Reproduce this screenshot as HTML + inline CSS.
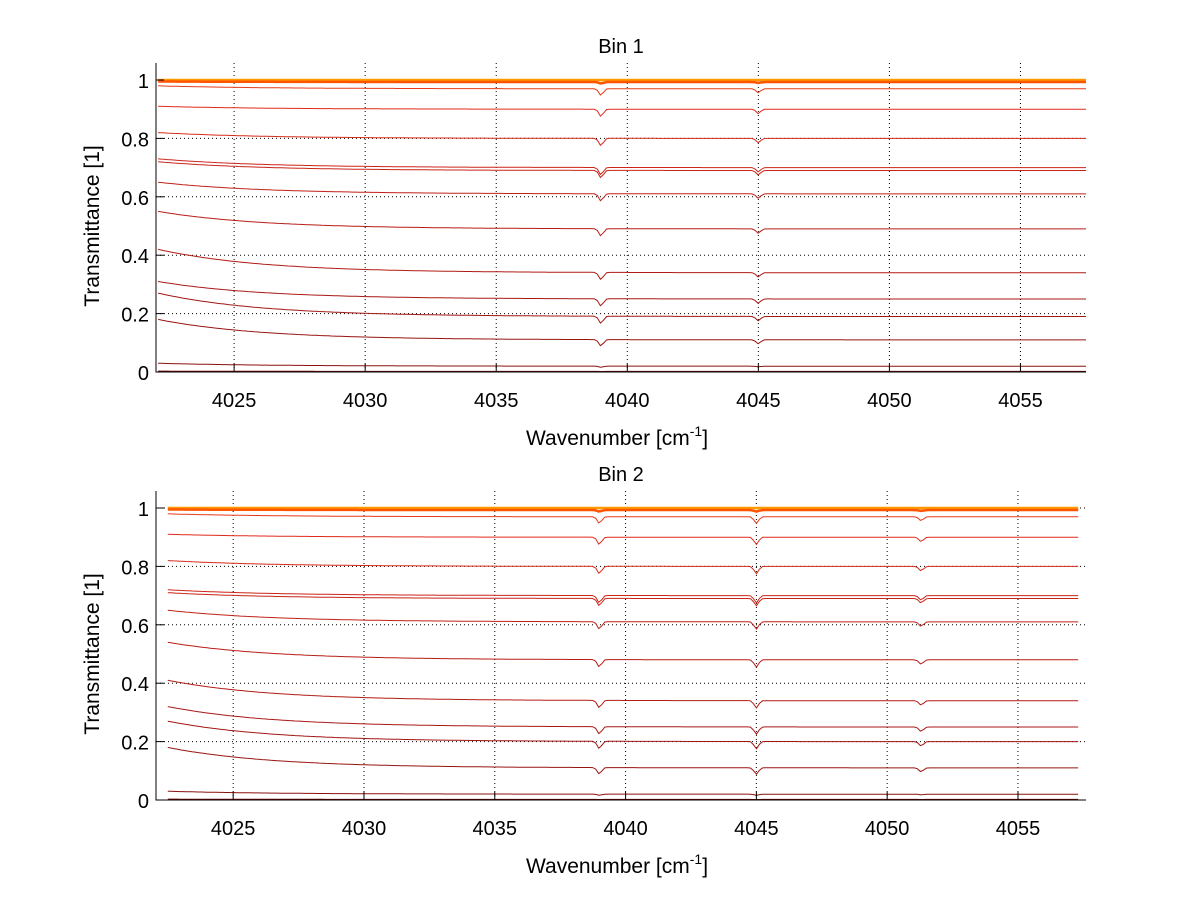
<!DOCTYPE html>
<html><head><meta charset="utf-8">
<style>
html,body{margin:0;padding:0;background:#fff;}
svg{display:block;font-family:"Liberation Sans",sans-serif;}
</style></head>
<body>
<svg id="fig" width="1200" height="901" viewBox="0 0 1200 901" xmlns="http://www.w3.org/2000/svg"></svg>
<script>
// Data
const xTicks = [4025, 4030, 4035, 4040, 4045, 4050, 4055];
const yTicks = [0, 0.2, 0.4, 0.6, 0.8, 1];
const yTickLabels = ["0", "0.2", "0.4", "0.6", "0.8", "1"];
const bin1Start = [1.0, 0.995, 0.98, 0.91, 0.82, 0.73, 0.72, 0.65, 0.55, 0.42, 0.31, 0.27, 0.18, 0.03, 0.003];
const bin1End   = [1.0, 0.993, 0.97, 0.90, 0.80, 0.70, 0.69, 0.61, 0.49, 0.34, 0.25, 0.19, 0.11, 0.02, 0.002];
const bin2Start = [1.0, 0.995, 0.98, 0.91, 0.82, 0.72, 0.71, 0.65, 0.54, 0.41, 0.32, 0.27, 0.18, 0.03, 0.003];
const bin2End   = [1.0, 0.993, 0.97, 0.90, 0.80, 0.70, 0.69, 0.61, 0.48, 0.34, 0.25, 0.20, 0.11, 0.02, 0.002];
const dipCenters = [4039, 4045, 4051.3];
const dipDepth1 = [0.025, 0.015, 0.0];
const dipDepth2 = [0.025, 0.025, 0.015];
const curveColors = ["#ff9900","#ff5500","#e83a1a","#e02a1a","#d42a1a","#cc2418","#c82418","#c02018","#b81c16","#b01a14","#a81814","#a01612","#981410","#8a100c","#700808"];

const NS="http://www.w3.org/2000/svg";
const svg=document.getElementById('fig');
function mk(tag,attrs,parent){const e=document.createElementNS(NS,tag);for(const k in attrs)e.setAttribute(k,attrs[k]);(parent||svg).appendChild(e);return e;}

function panel(p){
  const g=mk('g',{});
  
  
  const X=v=>p.x0+(v-p.xmin)/(p.xmax-p.xmin)*(p.x1-p.x0);
  const Y=v=>p.y0-v*(p.y0-p.yOne);
  xTicks.forEach(t=>{const l=mk('line',{x1:X(t),x2:X(t),y1:p.y0,y2:p.yTop,stroke:'#000','stroke-width':1,'stroke-dasharray':'1,3'},g);
    });
  yTicks.forEach(t=>{if(t===0)return;const l=mk('line',{x1:p.x0,x2:p.x1,y1:Y(t),y2:Y(t),stroke:'#000','stroke-width':1,'stroke-dasharray':'1,3'},g);
    });
  const n=p.start.length;
  for(let i=0;i<n;i++){
    let d='';const steps=300;
    for(let k=0;k<=steps;k++){
      const xv=p.dxmin+(p.dxmax-p.dxmin)*k/steps;
      const f=Math.exp(-(xv-p.dxmin)/4);
      let v=p.end[i]+(p.start[i]-p.end[i])*f;
      const sc=Math.min(1,p.end[i]*8)*Math.min(1,(1-p.end[i])*30);
      dipCenters.forEach((c,j)=>{v-=p.dips[j]*sc*Math.exp(-Math.pow((xv-c)/0.12,2));});
      if(v>1)v=1;
      d+=(k?'L':'M')+X(xv).toFixed(1)+','+Y(v).toFixed(1);
    }
    const path=mk('path',{d:d,fill:'none',stroke:curveColors[i],'stroke-width':(i<2?2.5:1)},g);
    
    
  }
  const ax=mk('path',{d:`M${p.x0},${p.yTop}V${p.y0}H${p.x1}`,stroke:'#000','stroke-width':1,fill:'none'},g);
  
  xTicks.forEach(t=>{mk('line',{x1:X(t),x2:X(t),y1:p.y0,y2:p.y0-8,stroke:'#000'},g);
    const tx=mk('text',{x:X(t),y:p.y0+35,'text-anchor':'middle','font-size':20},g);tx.textContent=t;
    });
  yTicks.forEach((t,i)=>{mk('line',{x1:p.x0,x2:p.x0+8,y1:Y(t),y2:Y(t),stroke:'#000'},g);
    const tx=mk('text',{x:p.x0-7,y:Y(t)+8,'text-anchor':'end','font-size':20},g);tx.textContent=yTickLabels[i];
    });
  const ti=mk('text',{x:(p.x0+p.x1)/2,y:p.yTop-10,'text-anchor':'middle','font-size':20},g);ti.textContent=p.title;
  
  const xl=mk('text',{x:(p.x0+p.x1)/2-4,y:p.y0+73,'text-anchor':'middle','font-size':21},g);
  xl.innerHTML='Wavenumber [cm<tspan dy="-9" font-size="14">-1</tspan><tspan dy="9">]</tspan>';
  
  const yl=mk('text',{x:0,y:0,'text-anchor':'middle','font-size':21,transform:`translate(${p.x0-57},${(p.y0+p.yOne)/2}) rotate(-90)`},g);
  yl.textContent='Transmittance [1]';
  
}
panel({name:'bin-1-panel',title:'Bin 1',x0:156,x1:1086,xmin:4022.02,xmax:4057.5,dxmin:4022.1,dxmax:4057.5,y0:372,yOne:80,yTop:63,start:bin1Start,end:bin1End,dips:dipDepth1});
panel({name:'bin-2-panel',title:'Bin 2',x0:156,x1:1086,xmin:4022.05,xmax:4057.6,dxmin:4022.5,dxmax:4057.3,y0:800,yOne:508,yTop:491,start:bin2Start,end:bin2End,dips:dipDepth2});
</script>
</body></html>
